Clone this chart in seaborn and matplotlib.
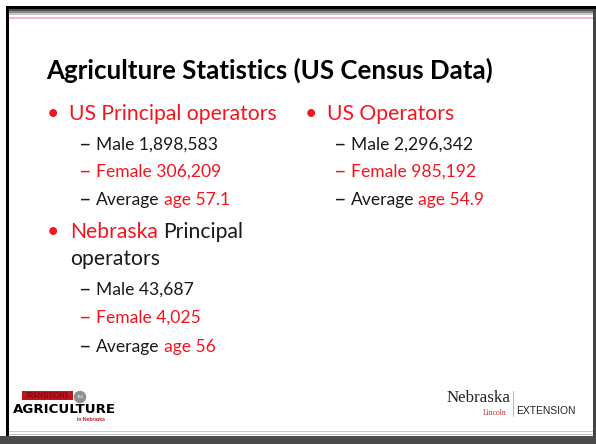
import matplotlib
matplotlib.use("Agg")
import matplotlib.pyplot as plt
import seaborn as sns
from matplotlib.patches import Rectangle, Circle

# SLIDE CONTENT
TITLE = "Agriculture Statistics (US Census Data)"

us_principal_head = "US Principal operators"
us_principal_male = "1,898,583"
us_principal_female = "306,209"
us_principal_age = "57.1"

us_ops_head = "US Operators"
us_ops_male = "2,296,342"
us_ops_female = "985,192"
us_ops_age = "54.9"

ne_head = ["Nebraska", "Principal", "operators"]
ne_male = "43,687"
ne_female = "4,025"
ne_age = "56"

RED = "#f5141e"
DARK = "#1a1a1a"
FONT = "Lato"

sns.set_theme(style="white")
plt.rcParams["font.family"] = [FONT, "DejaVu Sans"]

fig = plt.figure(figsize=(5.96, 4.44), dpi=100)
ax = fig.add_axes([0, 0, 1, 1])
ax.set_xlim(0, 596)
ax.set_ylim(444, 0)
ax.axis("off")


def band(x, y, w, h, color, z=1):
    ax.add_patch(Rectangle((x, y), w, h, facecolor=color, edgecolor="none",
                           lw=0, zorder=z))


def width_of(t):
    fig.canvas.draw()
    bb = t.get_window_extent()
    return bb.width * 596 / fig.bbox.width


# frame and header stripes
band(6, 6.5, 590, 3, "black", 2)
band(6, 6.5, 3, 433, "black", 2)
band(593, 9, 3, 430, "#444444", 2)
band(9, 9.5, 584, 2, "#505050")
band(9, 11.5, 584, 2, "#8a8a8a")
band(9, 13.5, 584, 1.5, "#c8c8c8")
band(9, 16.8, 584, 2.2, "#f7b6bd")
# footer stripes
band(9, 430.5, 584, 1.5, "#f4b9c0")
band(9, 433.5, 584, 1.5, "#c4c4c4")
band(0, 436, 596, 8, "#4a4a4a", 3)

ax.text(46, 70, TITLE, fontsize=18.6, fontweight="bold", color="black",
        va="center", ha="left")

SUB = 12.6
HEAD = 15.2


def sub_item(x, y, parts):
    ax.text(x, y, "\u2013", fontsize=SUB + 3, color=parts[0][1], va="center")
    cur = x + 17
    for txt, col in parts:
        t = ax.text(cur, y, txt, fontsize=SUB, color=col, va="center")
        cur += width_of(t) + 4


def bullet(x, y):
    ax.text(x, y, "\u2022", fontsize=HEAD, color=RED, va="center", ha="center")


# US principal operators
bullet(53, 114)
ax.text(69, 114, us_principal_head, fontsize=HEAD, color=RED, va="center")
sub_item(79, 145, [("Male " + us_principal_male, DARK)])
sub_item(79, 172, [("Female " + us_principal_female, RED)])
sub_item(79, 200, [("Average", DARK), ("age " + us_principal_age, RED)])

# US operators
bullet(311, 114)
ax.text(327, 114, us_ops_head, fontsize=HEAD, color=RED, va="center")
sub_item(334, 145, [("Male " + us_ops_male, DARK)])
sub_item(334, 172, [("Female " + us_ops_female, RED)])
sub_item(334, 200, [("Average", DARK), ("age " + us_ops_age, RED)])

# Nebraska principal operators
bullet(53, 232)
t1 = ax.text(70, 232, ne_head[0], fontsize=HEAD, color=RED, va="center")
ax.text(70 + width_of(t1) + 5, 232, ne_head[1], fontsize=HEAD, color=DARK,
        va="center")
ax.text(70, 259, ne_head[2], fontsize=HEAD, color=DARK, va="center")
sub_item(79, 290, [("Male " + ne_male, DARK)])
sub_item(79, 318, [("Female " + ne_female, RED)])
sub_item(79, 347, [("Average", DARK), ("age " + ne_age, RED)])

# left logo
band(22, 391, 51, 9, "#c0141e")
ax.text(47.5, 395.5, "TRANSITIONS", fontsize=4.8, color="#7a0a10",
        fontweight="bold", ha="center", va="center", zorder=3)
ax.add_patch(Circle((80, 397), 5.5, color="#8f8f8f", zorder=3))
ax.text(80, 397, "150", fontsize=3, color="white", ha="center", va="center",
        zorder=4)
ax.text(64, 409.5, "AGRICULTURE", fontsize=9.6, fontweight="heavy",
        family="DejaVu Sans", color="black", ha="center", va="center")
ax.text(91, 419, "in Nebraska", fontsize=3.8, color="#b3121c",
        fontweight="bold", ha="center", va="center")

# right logo
ax.text(479, 398, "Nebraska", fontsize=12.2, family="Liberation Serif",
        color="#222222", ha="center", va="center")
ax.plot([513, 513], [391, 416], color="#bbbbbb", lw=0.8)
ax.text(495, 412.5, "Lincoln", fontsize=5.5, family="Liberation Serif",
        color="#c0272d", ha="center", va="center")
ax.text(516, 411, "EXTENSION", fontsize=7.4, family="Liberation Sans",
        color="#222222", ha="left", va="center")

fig.savefig("out.png", dpi=100)
